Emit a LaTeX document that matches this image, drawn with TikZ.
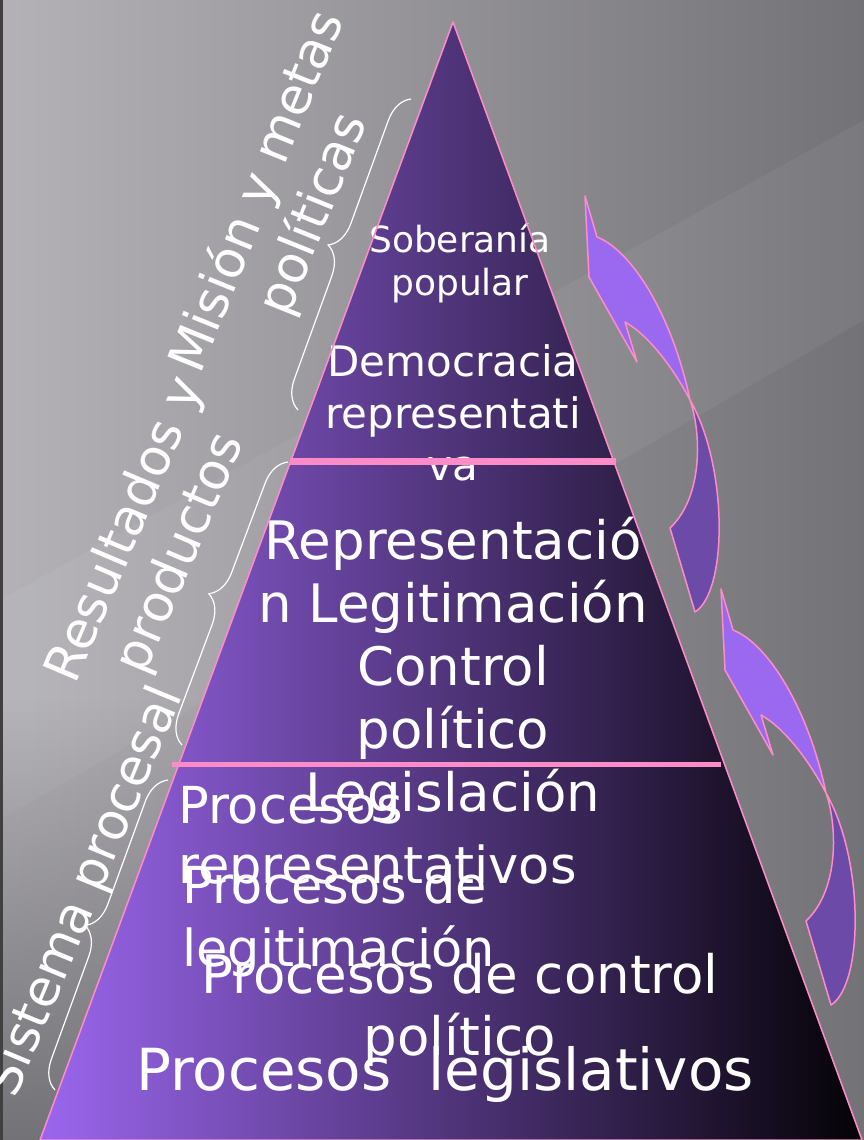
\documentclass[tikz,border=0pt]{standalone}
\usepackage{fontspec}
\setmainfont{DejaVu Sans}
\usetikzlibrary{decorations.pathreplacing,fadings}

\definecolor{bgLight}{HTML}{B4B2B7}
\definecolor{bgMid}{HTML}{A19FA4}
\definecolor{bgDark}{HTML}{737277}
\definecolor{pyrLight}{HTML}{9B66EE}
\definecolor{pyrMid}{HTML}{4C347C}
\definecolor{pyrDark}{HTML}{040206}
\definecolor{pinkLine}{HTML}{FF8CC8}
\definecolor{arrowLight}{HTML}{9B69F0}
\definecolor{arrowDark}{HTML}{6C4AA8}

\tikzset{
  txt/.style={text=white, inner sep=0pt, align=center},
  sidetxt/.style={txt, font=\fontsize{51}{60}\selectfont},
  bracket/.style={draw=white, line width=1.2pt, decorate, decoration={brace, amplitude=28pt}},
  band/.style={pinkLine, line width=#1},
  bendarrow/.pic={
    \filldraw[fill=arrowLight, draw=pinkLine, line width=1.5pt, line join=round]
      (0,0) -- (12,41) .. controls (48,55) and (88,122) .. (105,204)
      .. controls (90,175) and (65,140) .. (40,126) -- (52,166) -- (4,81) -- cycle;
    \filldraw[fill=arrowDark, draw=pinkLine, line width=1.5pt, line join=round]
      (105,204) .. controls (116,235) and (119,300) .. (85,332) -- (110,416)
      .. controls (143,395) and (143,270) .. (105,204) -- cycle;
  }
}

\begin{document}
\begin{tikzpicture}[x=1pt, y=-1pt]
\useasboundingbox (0,0) rectangle (864,1140);
\clip (0,0) rectangle (864,1140);

% background
\shade[left color=bgLight, middle color=bgMid, right color=bgDark] (0,0) rectangle (864,1140);
\fill[white, opacity=0.05] (0,600) -- (864,120) -- (864,320) -- (0,820) -- cycle;
\fill[bgDark, path fading=north] (0,700) rectangle (460,1140);
\fill[black!75] (0,0) rectangle (2.5,1140);

% pyramid
\coordinate (apex) at (453,22);
\coordinate (baseL) at (40,1140);
\coordinate (baseR) at (862,1140);
\shade[left color=pyrLight, middle color=pyrMid, right color=pyrDark] (apex) -- (baseL) -- (baseR) -- cycle;

\node[txt, font=\fontsize{36}{43}\selectfont] (sober) at (460,263) {Soberanía\\popular};
\node[txt, font=\fontsize{42}{52}\selectfont] (demo) at (453,413) {Democracia\\representati\\va};
\node[txt, font=\fontsize{53}{63}\selectfont] (repr) at (453,670) {Representació\\n Legitimación\\Control\\político\\Legislación};
\node[txt, align=left, anchor=west, font=\fontsize{51}{60}\selectfont] (prep) at (178,840) {Procesos\\representativos};
\node[txt, align=left, anchor=west, font=\fontsize{51}{63}\selectfont] (pleg) at (182,921) {Procesos de\\legitimación};
\node[txt, font=\fontsize{53}{62}\selectfont] (pctl) at (460,1010) {Procesos de control\\político};
\node[txt, font=\fontsize{58}{66}\selectfont] (plex) at (445,1074) {Procesos\ \ legislativos};

% bands
\draw[band=7pt] (290,461) -- (616,461);
\draw[band=5pt] (172,764) -- (721,764);
\draw[pinkLine, line width=1.5pt, line join=round] (apex) -- (baseL) -- (baseR) -- cycle;

% braces
\draw[bracket] (298,410) -- (411,99);
\draw[bracket] (182,745) -- (288,462);
\draw[bracket] (55,1090) -- (168,780);

\node[sidetxt, rotate=68] (mision) at (286,203) {Misión y metas\\políticas};
\node[sidetxt, rotate=67] (result) at (154,542) {Resultados y\\productos};
\node[sidetxt, rotate=67.5] (sistema) at (86,892) {Sistema procesal};

% arrows
\pic at (585,196) {bendarrow};
\pic at (721,589) {bendarrow};
\end{tikzpicture}
\end{document}
